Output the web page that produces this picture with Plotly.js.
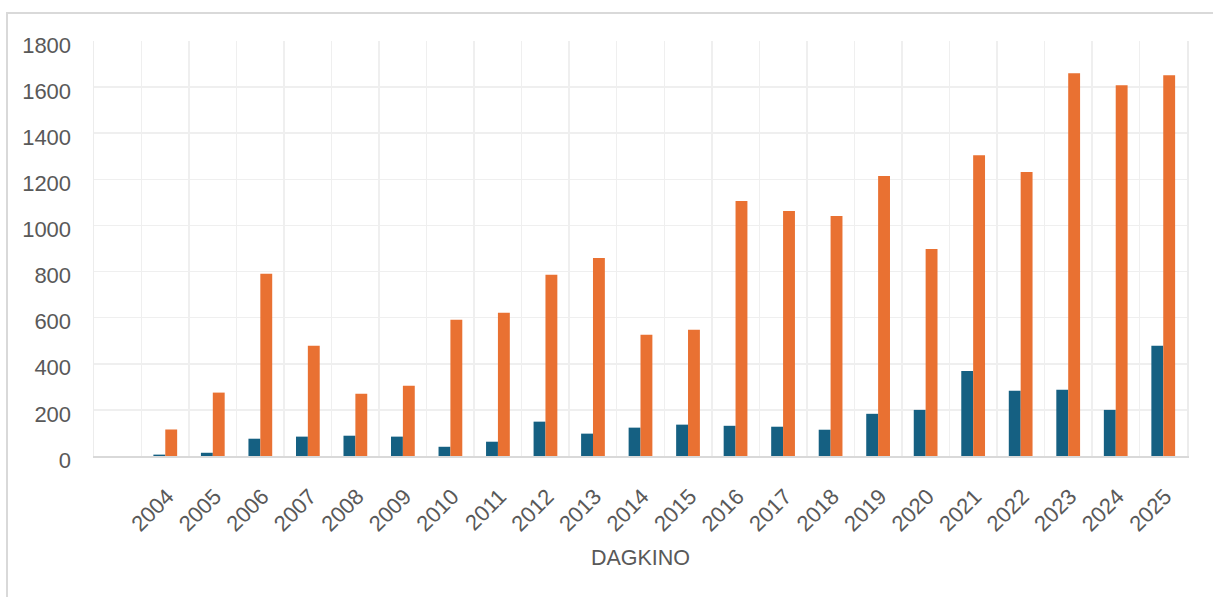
<!DOCTYPE html>
<html>
<head>
<meta charset="utf-8">
<script src="https://cdn.plot.ly/plotly-3.0.1.min.js"></script>
<style>
  html, body { margin: 0; padding: 0; background: #ffffff; overflow: hidden; }
  #chart { position: absolute; left: 0; top: 0; width: 1213px; height: 597px; }
  #card { position: absolute; left: 6px; top: 12px; width: 1300px; height: 700px;
          border-top: 2px solid #d9d9d9; border-left: 2px solid #d9d9d9;
          pointer-events: none; box-sizing: border-box; }
</style>
</head>
<body>
<div id="chart"></div>
<div id="card"></div>
<script>
const years = ["2004","2005","2006","2007","2008","2009","2010","2011","2012","2013","2014",
               "2015","2016","2017","2018","2019","2020","2021","2022","2023","2024","2025"];
const seriesBlue = [6, 14, 75, 84, 88, 84, 40, 62, 149, 97, 123,
                    136, 131, 127, 114, 183, 200, 369, 283, 287, 200, 478];
const seriesOrange = [115, 275, 790, 478, 270, 305, 591, 621, 786, 859, 526,
                      548, 1106, 1063, 1041, 1214, 898, 1305, 1232, 1660, 1608, 1651];
const yTicks = [0, 200, 400, 600, 800, 1000, 1200, 1400, 1600, 1800];
const xTitle = "DAGKINO";

const textColor = "#595959";
const fontFam = "Liberation Sans, Arial, sans-serif";

const data = [
  { type: "bar", x: years, y: seriesBlue, marker: { color: "#156082" }, name: "A", hoverinfo: "x+y" },
  { type: "bar", x: years, y: seriesOrange, marker: { color: "#E97132" }, name: "B", hoverinfo: "x+y" }
];

const layout = {
  width: 1213, height: 597,
  margin: { l: 94, r: 26, t: 41, b: 141, autoexpand: false },
  paper_bgcolor: "rgba(0,0,0,0)",
  plot_bgcolor: "#ffffff",
  showlegend: false,
  barmode: "group",
  bargap: 0.5,
  bargroupgap: 0,
  font: { family: fontFam, color: textColor, size: 22 },
  xaxis: {
    type: "category",
    categoryorder: "array",
    categoryarray: years,
    range: [-1.5, years.length - 0.5],
    tickson: "boundaries",
    ticks: "",
    tickangle: -45,
    ticklabelstandoff: 17,
    ticklabelshift: 2,
    showgrid: true,
    gridcolor: "#efefef",
    gridwidth: 1.5,
    showline: true,
    linecolor: "#d9d9d9",
    linewidth: 2,
    zeroline: false,
    automargin: false,
    tickfont: { family: fontFam, color: textColor, size: 22 },
    title: { text: xTitle, font: { family: fontFam, color: textColor, size: 21.5 }, standoff: 15 }
  },
  yaxis: {
    range: [0, 1800],
    tickvals: yTicks,
    ticktext: yTicks.map(String),
    ticks: "",
    ticklabelstandoff: 17,
    ticklabelshift: 4,
    showgrid: true,
    gridcolor: "#efefef",
    gridwidth: 1.5,
    showline: true,
    mirror: true,
    linecolor: "#ececec",
    linewidth: 1.5,
    zeroline: false,
    automargin: false,
    tickfont: { family: fontFam, color: textColor, size: 22 }
  }
};

Plotly.newPlot("chart", data, layout, { displayModeBar: false, staticPlot: true });
</script>
</body>
</html>
